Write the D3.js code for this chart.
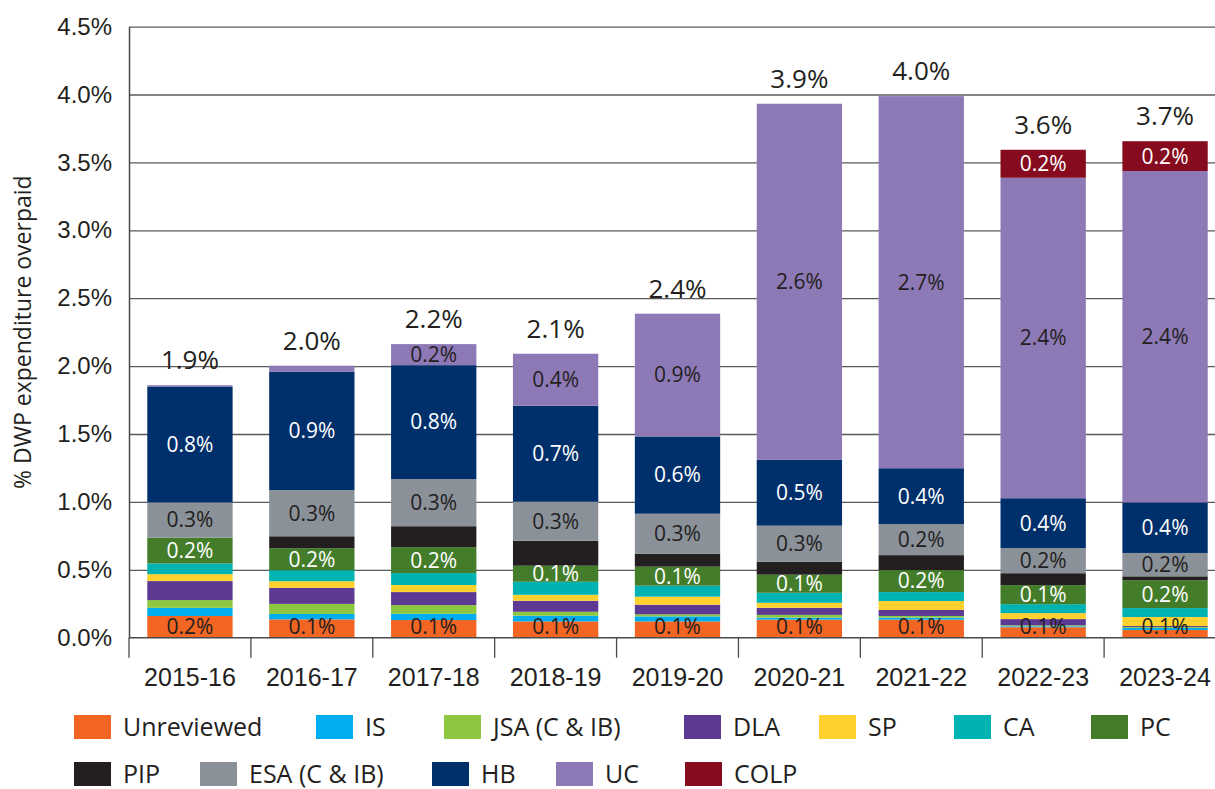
<!DOCTYPE html>
<html>
<head>
<meta charset="utf-8">
<script src="https://cdn.jsdelivr.net/npm/d3@7"></script>
<style>
  html, body { margin: 0; padding: 0; background: #fff; }
  svg { display: block; font-family: "Open Sans", "DejaVu Sans", sans-serif; }
</style>
</head>
<body>
<svg id="chart" width="1215" height="789"></svg>
<script>
// Financial years on the x axis
const years = ["2015-16", "2016-17", "2017-18", "2018-19", "2019-20", "2020-21", "2021-22", "2022-23", "2023-24"];

// Overpayment as % of DWP expenditure, by benefit (stack order bottom to top)
const unreviewed = [0.16, 0.135, 0.13, 0.12, 0.12, 0.133, 0.133, 0.077, 0.057];
const is         = [0.06, 0.04, 0.046, 0.042, 0.037, 0.015, 0.015, 0.007, 0.015];
const jsa        = [0.057, 0.074, 0.064, 0.029, 0.015, 0.02, 0.012, 0.007, 0.007];
const dla        = [0.14, 0.118, 0.096, 0.081, 0.071, 0.052, 0.044, 0.046, 0.007];
const sp         = [0.051, 0.049, 0.052, 0.044, 0.059, 0.037, 0.066, 0.044, 0.066];
const ca         = [0.079, 0.081, 0.088, 0.096, 0.081, 0.074, 0.066, 0.066, 0.066];
const pc         = [0.19, 0.162, 0.19, 0.118, 0.14, 0.133, 0.162, 0.14, 0.205];
const pip        = [0, 0.088, 0.155, 0.184, 0.096, 0.096, 0.11, 0.088, 0.029];
const esa        = [0.26, 0.34, 0.347, 0.287, 0.294, 0.265, 0.228, 0.184, 0.172];
const hb         = [0.849, 0.871, 0.839, 0.707, 0.569, 0.486, 0.412, 0.368, 0.372];
const uc         = [0.013, 0.045, 0.155, 0.383, 0.904, 2.621, 2.74, 2.36, 2.44];
const colp       = [0, 0, 0, 0, 0, 0, 0, 0.206, 0.22];

const seriesNames = ["Unreviewed", "IS", "JSA (C & IB)", "DLA", "SP", "CA", "PC", "PIP", "ESA (C & IB)", "HB", "UC", "COLP"];
const seriesValues = [unreviewed, is, jsa, dla, sp, ca, pc, pip, esa, hb, uc, colp];
const seriesColors = ["#F26522", "#00AEEF", "#8DC63F", "#5C3A93", "#FFD12F", "#00B3B3", "#437D2A", "#231F20", "#8A9199", "#00306B", "#8E79B7", "#860B1E"];
// Segments that carry a value label, and the label colour used on each
const labelColors = { "Unreviewed": "#231F20", "PC": "#ffffff", "ESA (C & IB)": "#231F20", "HB": "#ffffff", "UC": "#231F20", "COLP": "#ffffff" };

const yTicks = [0, 0.5, 1.0, 1.5, 2.0, 2.5, 3.0, 3.5, 4.0, 4.5];
const yTitle = "% DWP expenditure overpaid";

// ---- layout ----
const svg = d3.select("#chart");
const plotLeft = 129, plotRight = 1226, plotTop = 26.6, plotBottom = 637.7;
const inkDark = "#231F20";

const x = d3.scaleBand().domain(years).range([plotLeft, plotRight]).paddingInner(0.3).paddingOuter(0.15);
const y = d3.scaleLinear().domain([0, 4.5]).range([plotBottom, plotTop]);

// rows for the stack
const rows = years.map((yr, i) => {
  const r = { year: yr };
  seriesNames.forEach((s, k) => { r[s] = seriesValues[k][i]; });
  return r;
});
const stacked = d3.stack().keys(seriesNames)(rows);
const totals = rows.map(r => d3.sum(seriesNames, s => r[s]));

// gridlines
svg.append("g")
  .attr("transform", `translate(${plotLeft},0)`)
  .call(d3.axisLeft(y).tickValues(yTicks.slice(1)).tickSize(-(1215 - plotLeft)).tickFormat(""))
  .call(g => g.select(".domain").remove())
  .call(g => g.selectAll("line").attr("stroke", "#5a5a5a").attr("stroke-width", 1.3));

// bars
const layer = svg.append("g");
stacked.forEach((ser, k) => {
  layer.selectAll(null).data(ser).enter().append("rect")
    .attr("x", (d, i) => x(years[i]))
    .attr("width", x.bandwidth())
    .attr("y", d => y(d[1]))
    .attr("height", d => Math.max(0, y(d[0]) - y(d[1])))
    .attr("fill", seriesColors[k]);
});

// segment value labels
stacked.forEach((ser, k) => {
  const name = seriesNames[k];
  if (!(name in labelColors)) return;
  ser.forEach((d, i) => {
    const v = d[1] - d[0];
    if (v < 0.05) return;
    let cy = (y(d[0]) + y(d[1])) / 2;
    cy = Math.min(cy, plotBottom - 11);
    svg.append("text")
      .attr("x", x(years[i]) + x.bandwidth() / 2)
      .attr("y", cy)
      .attr("dy", "0.35em")
      .attr("text-anchor", "middle")
      .attr("font-size", 21)
      .attr("fill", labelColors[name])
      .text(v.toFixed(1) + "%");
  });
});

// totals above bars
svg.selectAll(".total").data(totals).enter().append("text")
  .attr("class", "total")
  .attr("x", (d, i) => x(years[i]) + x.bandwidth() / 2)
  .attr("y", d => y(d) - 16)
  .attr("text-anchor", "middle")
  .attr("font-size", 26)
  .attr("fill", inkDark)
  .text(d => d.toFixed(1) + "%");

// y axis
svg.append("g")
  .attr("transform", `translate(${plotLeft},0)`)
  .call(d3.axisLeft(y).tickValues(yTicks).tickSize(0).tickPadding(17).tickFormat(d => d.toFixed(1) + "%"))
  .call(g => g.select(".domain").attr("stroke", "#4a4a4a").attr("stroke-width", 1.5))
  .call(g => g.selectAll("text").attr("font-size", 24).attr("fill", inkDark).attr("font-family", null));

// x axis
svg.append("g")
  .attr("transform", `translate(0,${plotBottom})`)
  .call(d3.axisBottom(x).tickSize(0).tickPadding(31))
  .call(g => g.select(".domain").remove())
  .call(g => g.selectAll("text").attr("font-size", 25).attr("fill", inkDark).attr("font-family", null));

svg.append("line")
  .attr("x1", plotLeft).attr("x2", 1215)
  .attr("y1", plotBottom).attr("y2", plotBottom)
  .attr("stroke", "#4a4a4a").attr("stroke-width", 1.5);

// category separators below the axis
const gap = (x.step() - x.bandwidth()) / 2;
const seps = years.map(yr => x(yr) - gap).concat([x(years[years.length - 1]) + x.bandwidth() + gap]);
svg.selectAll(".sep").data(seps).enter().append("line")
  .attr("x1", d => d).attr("x2", d => d)
  .attr("y1", plotBottom).attr("y2", plotBottom + 20)
  .attr("stroke", "#4a4a4a").attr("stroke-width", 1.3);

// y axis title
svg.append("text")
  .attr("transform", `translate(31,${(plotTop + plotBottom) / 2}) rotate(-90)`)
  .attr("text-anchor", "middle")
  .attr("font-size", 23)
  .attr("fill", inkDark)
  .text(yTitle);

// legend: two rows, entries placed in fixed slots
const legendRows = [seriesNames.slice(0, 7), seriesNames.slice(7)];
const legendSlots = [[74, 316, 444, 684, 819, 954, 1091], [74, 200, 432, 556, 685]];
const rowY = [727, 774];
legendRows.forEach((names, r) => {
  names.forEach((name, j) => {
    const k = seriesNames.indexOf(name);
    const g = svg.append("g").attr("transform", `translate(${legendSlots[r][j]},${rowY[r]})`);
    g.append("rect").attr("x", 0).attr("y", -12).attr("width", 37).attr("height", 24).attr("fill", seriesColors[k]);
    g.append("text").attr("x", 49).attr("y", 0).attr("dy", "0.35em")
      .attr("font-size", 25).attr("fill", inkDark).text(name);
  });
});
</script>
</body>
</html>
